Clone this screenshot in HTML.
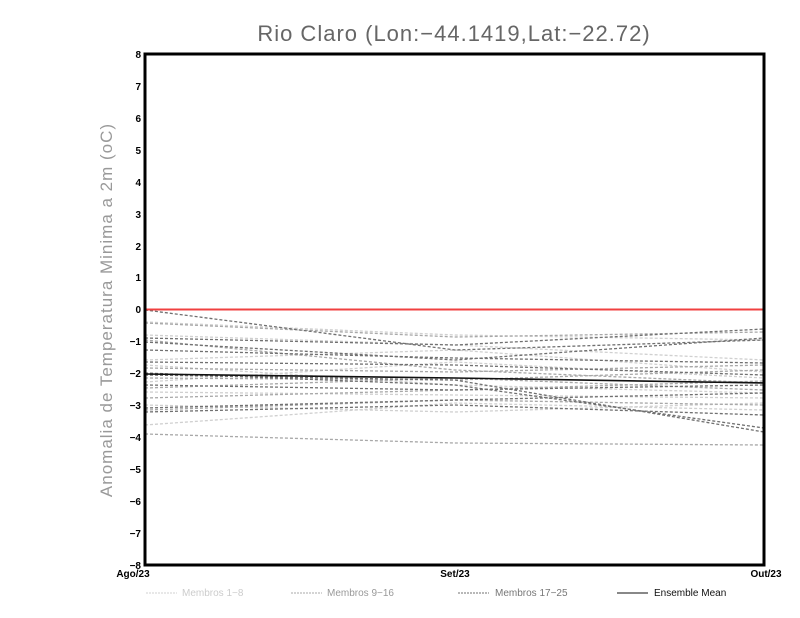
<!DOCTYPE html>
<html><head><meta charset="utf-8"><style>body{margin:0;background:#fff}svg{display:block}</style></head><body>
<svg width="800" height="618" viewBox="0 0 800 618" xmlns="http://www.w3.org/2000/svg" font-family="Liberation Sans, sans-serif">
<rect width="800" height="618" fill="#fff"/>
<text x="454" y="41" font-size="22" fill="#666" text-anchor="middle" letter-spacing="1">Rio Claro (Lon:−44.1419,Lat:−22.72)</text>
<text transform="translate(112,310) rotate(-90)" font-size="17" fill="#999" text-anchor="middle" letter-spacing="1">Anomalia de Temperatura Minima a 2m (oC)</text>
<g fill="none" stroke-dasharray="3,2" stroke-width="1.3">
<g stroke="#d0d0d0">
<polyline points="145,322 455,335 764,340"/>
<polyline points="145,335 455,345 764,360"/>
<polyline points="145,360 455,350 764,372"/>
<polyline points="145,392 455,395 764,398"/>
<polyline points="145,365 455,385 764,393"/>
<polyline points="145,405 455,412 764,403"/>
<polyline points="145,425 455,403 764,410"/>
<polyline points="145,382 455,362 764,378"/>
</g>
<g stroke="#a8a8a8">
<polyline points="145,323 455,337 764,332"/>
<polyline points="145,340 455,370 764,383"/>
<polyline points="145,368 455,372 764,365"/>
<polyline points="145,378 455,380 764,370"/>
<polyline points="145,388 455,378 764,390"/>
<polyline points="145,410 455,400 764,405"/>
<polyline points="145,434 455,443 764,445"/>
<polyline points="145,398 455,390 764,381"/>
</g>
<g stroke="#707070">
<polyline points="145,310 455,350 764,340"/>
<polyline points="145,338 455,345 764,329"/>
<polyline points="145,342 455,360 764,338"/>
<polyline points="145,350 455,358 764,363"/>
<polyline points="145,362 455,365 764,375"/>
<polyline points="145,373 455,385 764,428"/>
<polyline points="145,375 455,380 764,432"/>
<polyline points="145,385 455,390 764,385"/>
<polyline points="145,408 455,400 764,393"/>
<polyline points="145,412 455,405 764,415"/>
</g>
</g>
<polyline points="145,374 455,378 764,383" fill="none" stroke="#111" stroke-width="1.6"/>
<line x1="145" y1="309.5" x2="764" y2="309.5" stroke="#f04040" stroke-width="2"/>
<rect x="145" y="54" width="619" height="511" fill="none" stroke="#000" stroke-width="3"/>
<g font-size="10" font-weight="bold" text-anchor="end" fill="#000">
<text x="141" y="58">8</text><text x="141" y="90">7</text><text x="141" y="122">6</text><text x="141" y="154">5</text>
<text x="141" y="186">4</text><text x="141" y="218">3</text><text x="141" y="250">2</text><text x="141" y="281">1</text>
<text x="141" y="313">0</text><text x="141" y="345">−1</text><text x="141" y="377">−2</text><text x="141" y="409">−3</text>
<text x="141" y="441">−4</text><text x="141" y="473">−5</text><text x="141" y="505">−6</text><text x="141" y="537">−7</text>
<text x="141" y="569">−8</text>
</g>
<g font-size="10" font-weight="bold" text-anchor="middle" fill="#000">
<text x="133" y="577">Ago/23</text><text x="455" y="577">Set/23</text><text x="766" y="577">Out/23</text>
</g>
<g font-size="10">
<line x1="146" y1="593" x2="177" y2="593" stroke="#d0d0d0" stroke-dasharray="2,1"/>
<text x="182" y="596" fill="#ccc">Membros 1−8</text>
<line x1="291" y1="593" x2="322" y2="593" stroke="#a8a8a8" stroke-dasharray="2,1"/>
<text x="327" y="596" fill="#999">Membros 9−16</text>
<line x1="458" y1="593" x2="489" y2="593" stroke="#707070" stroke-dasharray="2,1"/>
<text x="495" y="596" fill="#777">Membros 17−25</text>
<line x1="617" y1="593" x2="648" y2="593" stroke="#111"/>
<text x="654" y="596" fill="#111">Ensemble Mean</text>
</g>
</svg>
</body></html>
